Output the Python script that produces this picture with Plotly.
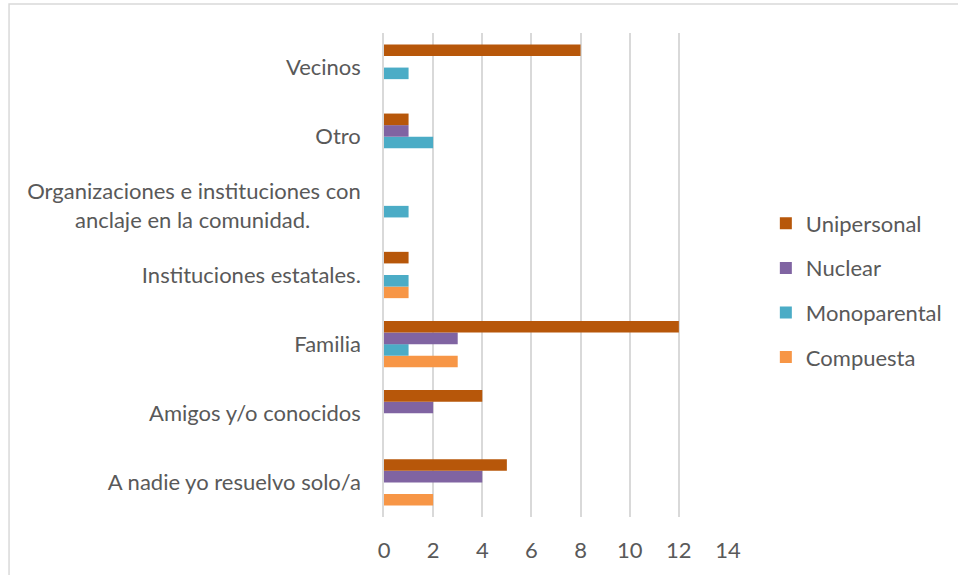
import plotly.graph_objects as go

categories = [
    "A nadie yo resuelvo solo/a",
    "Amigos y/o conocidos",
    "Familia",
    "Instituciones estatales.",
    "Organizaciones e instituciones con<br>anclaje en la comunidad.\u00a0\u00a0\u00a0\u00a0\u00a0\u00a0\u00a0\u00a0\u00a0",
    "Otro",
    "Vecinos",
]
unipersonal = [5, 4, 12, 1, 0, 1, 8]
nuclear = [4, 2, 3, 0, 0, 1, 0]
monoparental = [0, 0, 1, 1, 1, 2, 1]
compuesta = [2, 0, 3, 1, 0, 0, 0]
x_ticks = [0, 2, 4, 6, 8, 10, 12, 14]

series = [
    ("Compuesta", compuesta, "#F79646", 4),
    ("Monoparental", monoparental, "#4BACC6", 3),
    ("Nuclear", nuclear, "#8064A2", 2),
    ("Unipersonal", unipersonal, "#B7570A", 1),
]

FONT = "Lato"
FS = 22
GRAY = "#595959"

fig = go.Figure()
for name, vals, color, rank in series:
    fig.add_trace(go.Bar(
        y=categories, x=vals, name=name, orientation="h",
        marker=dict(color=color, line=dict(width=0)),
        legendgroup=name, legendrank=rank,
    ))

fig.update_layout(
    width=958, height=575,
    barmode="group", bargap=0.33, bargroupgap=0,
    paper_bgcolor="white", plot_bgcolor="white",
    margin=dict(l=384, r=230, t=33, b=58, autoexpand=False),
    font=dict(family=FONT, size=FS, color=GRAY),
    legend=dict(
        traceorder="grouped", x=1.11, xanchor="left", y=0.468, yanchor="middle",
        font=dict(family=FONT, size=FS, color=GRAY), tracegroupgap=13,
        bgcolor="rgba(0,0,0,0)",
    ),
    showlegend=True,
)
fig.update_xaxes(
    range=[0, 14], tickvals=x_ticks, showgrid=True, gridcolor="#D9D9D9", gridwidth=1.5,
    zeroline=False, showline=False, ticks="", ticklabelstandoff=18,
    tickfont=dict(family=FONT, size=FS, color=GRAY),
)
fig.update_yaxes(
    showgrid=False, zeroline=False, showline=True, linecolor="#D9D9D9", linewidth=1.5,
    ticks="", ticklabelstandoff=17,
    tickfont=dict(family=FONT, size=FS, color=GRAY),
)
fig.add_shape(type="rect", xref="paper", yref="paper",
              x0=-1.09, x1=1.8, y0=-0.3, y1=1.06,
              line=dict(color="#D9D9D9", width=1.5), fillcolor="rgba(0,0,0,0)", layer="below")

fig.write_html("out.html", config={"displayModeBar": False},
               post_script="document.body.style.margin='0';")
